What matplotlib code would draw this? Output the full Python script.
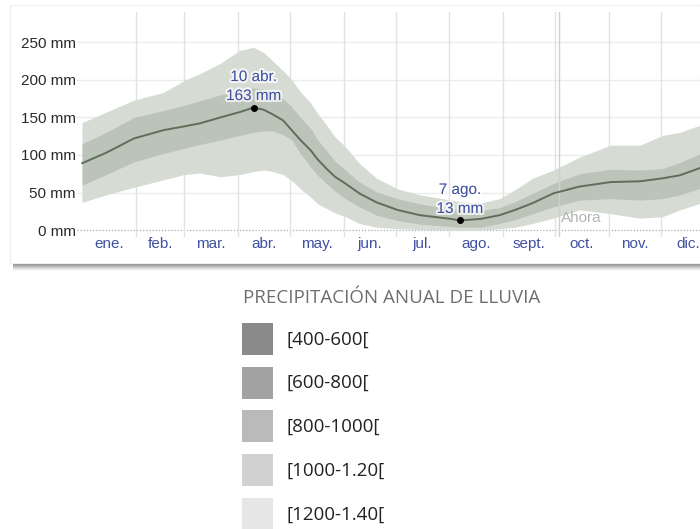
import matplotlib
matplotlib.use("Agg")
import matplotlib.pyplot as plt
from matplotlib.patches import Rectangle
import matplotlib.patheffects as pe

# ---- data -------------------------------------------------------------
# day of year (0 = 1 Jan) and daily precipitation percentiles in mm
days = [0, 14, 30, 47, 59, 68, 80, 91, 99, 105, 110, 116, 121, 126, 132, 136, 141,
        146, 152, 160, 170, 182, 195, 213, 218, 230, 241, 250, 260, 272, 287, 305,
        322, 335, 345, 357]
p50 = [89, 103, 122, 133, 138, 142, 150, 157, 163, 160, 154, 146, 133, 120, 106, 94, 82,
       71, 62, 49, 37, 27, 20, 15, 13, 15, 20, 27, 36, 49, 58, 64,
       65, 69, 73, 83]
p10 = [37, 47, 57, 67, 74, 76, 71, 74, 78, 80, 78, 74, 66, 55, 44, 35, 29,
       23, 18, 9, 4, 2, 1, 0, 0, 0, 2, 4, 9, 16, 27, 22,
       16, 18, 27, 36]
p90 = [143, 157, 173, 183, 199, 208, 222, 239, 243, 236, 225, 212, 200, 184, 169, 155, 140,
       124, 111, 89, 69, 55, 47, 40, 38, 36, 42, 54, 69, 80, 97, 113,
       113, 126, 130, 140]
p25 = [60, 74, 91, 102, 109, 114, 120, 126, 130, 132, 132, 127, 120, 102, 84, 73, 62,
       52, 42, 31, 20, 13, 8, 5, 4, 4, 9, 14, 22, 31, 40, 42,
       40, 42, 47, 56]
p75 = [115, 130, 150, 159, 166, 172, 180, 186, 189, 187, 184, 175, 164, 150, 135, 120, 106,
       92, 80, 64, 51, 42, 35, 28, 27, 26, 30, 38, 49, 62, 75, 81,
       80, 82, 90, 102]

month_labels = ["ene.", "feb.", "mar.", "abr.", "may.", "jun.",
                "jul.", "ago.", "sept.", "oct.", "nov.", "dic."]
month_starts = [0, 31, 59, 90, 120, 151, 181, 212, 243, 273, 304, 334, 365]
y_ticks = [0, 50, 100, 150, 200, 250]

peak_day, peak_val, peak_label = 99, 163, "10 abr."
low_day, low_val, low_label = 218, 13, "7 ago."
now_day, now_label = 275.5, "Ahora"

legend_title = "PRECIPITACIÓN ANUAL DE LLUVIA"
legend_labels = ["[400-600[", "[600-800[", "[800-1000[", "[1000-1.20[", "[1200-1.40["]
legend_colors = ["#8a8a8a", "#a2a2a2", "#bababa", "#d2d2d2", "#e6e6e6"]

# ---- figure -----------------------------------------------------------
W, H = 700, 529
fig = plt.figure(figsize=(W / 100, H / 100), dpi=100)
fig.patch.set_facecolor("white")


def fx(x):
    return x / W


def fy(y):
    return 1 - y / H


# card background and its bottom shadow
fig.patches.append(Rectangle((fx(10), fy(263)), fx(700) - fx(10), fy(5) - fy(263),
                             transform=fig.transFigure, facecolor="white",
                             edgecolor="#efefef", lw=0.8, zorder=-5))
shadow = ["#9c9c9c", "#a8a8a8", "#b8b8b8", "#cccccc", "#dedede", "#ececec", "#f6f6f6"]
for i, c in enumerate(shadow):
    fig.patches.append(Rectangle((fx(13), fy(264 + i + 1)), fx(700) - fx(13), 1 / H,
                                 transform=fig.transFigure, facecolor=c,
                                 edgecolor="none", zorder=-5))

ax = fig.add_axes([fx(77), fy(237), fx(700) - fx(77), (237 - 12) / H])
ax.set_zorder(2)
ax.set_facecolor("none")
ax.set_xlim(-2.9, 356.6)
ax.set_ylim(-9, 290)
for s in ax.spines.values():
    s.set_visible(False)

# grid
for v in y_ticks[1:]:
    ax.axhline(v, color="#ececec", lw=1.0, zorder=1)
ax.axhline(0, color="#a8a8a8", lw=0.9, ls=(0, (1, 1.5)), zorder=1)
for d in month_starts[1:12]:
    ax.axvline(d, color="#e2e2e2", lw=1.0, zorder=1)

# percentile bands and median
ax.fill_between(days, p10, p90, color="#d6dbd4", lw=0, zorder=2)
ax.fill_between(days, p25, p75, color="#bcc3b9", lw=0, zorder=3)
ax.axvline(now_day, color="#d0d0d0", lw=1.0, zorder=3.5)
ax.plot(days, p50, color="#5f6e59", lw=1.4, zorder=4,
        solid_capstyle="round", solid_joinstyle="round")

# y axis
ax.set_yticks(y_ticks)
ax.set_yticklabels([f"{v} mm" for v in y_ticks], family="Liberation Sans",
                   fontsize=11, color="#2a2a2a")
ax.tick_params(axis="y", length=0, pad=1)
ax.set_xticks([])

# month labels centred in each month
for i, lab in enumerate(month_labels):
    mid = (month_starts[i] + month_starts[i + 1]) / 2
    ax.text(mid, -(248 - 237) / 225, lab, transform=ax.get_xaxis_transform(),
            ha="center", va="baseline", family="Liberation Sans",
            fontsize=11, color="#3f51a0", clip_on=False)

# extreme markers
halo = [pe.withStroke(linewidth=3, foreground=(1, 1, 1, 0.75))]
for d, v, lab in [(peak_day, peak_val, peak_label), (low_day, low_val, low_label)]:
    ax.plot([d], [v], "o", color="black", ms=4, zorder=6)
    ax.annotate(f"{v} mm", (d, v), xytext=(0, 11.5), textcoords="offset pixels",
                ha="center", va="center", family="Liberation Sans", fontsize=11,
                color="#3f51a0", path_effects=halo, zorder=7)
    ax.annotate(lab, (d, v), xytext=(0, 30.5), textcoords="offset pixels",
                ha="center", va="center", family="Liberation Sans", fontsize=11,
                color="#3f51a0", path_effects=halo, zorder=7)

ax.text(now_day + 0.8, 16, now_label, ha="left", va="center",
        family="Liberation Sans", fontsize=11, color="#b4b4b4", zorder=5)

# legend below the chart
fig.text(fx(243), fy(298), legend_title, ha="left", va="center",
         family="Open Sans", fontsize=13.5, color="#6e6e6e")
for i, (lab, col) in enumerate(zip(legend_labels, legend_colors)):
    top = 323 + i * 43.7
    fig.patches.append(Rectangle((fx(242), fy(top + 32)), 31 / W, 32 / H,
                                 transform=fig.transFigure, facecolor=col,
                                 edgecolor="none"))
    fig.text(fx(286), fy(top + 16.5), lab, ha="left", va="center",
             family="Open Sans", fontsize=13.5, color="#222222")

fig.savefig("out.png", dpi=100, facecolor="white")
